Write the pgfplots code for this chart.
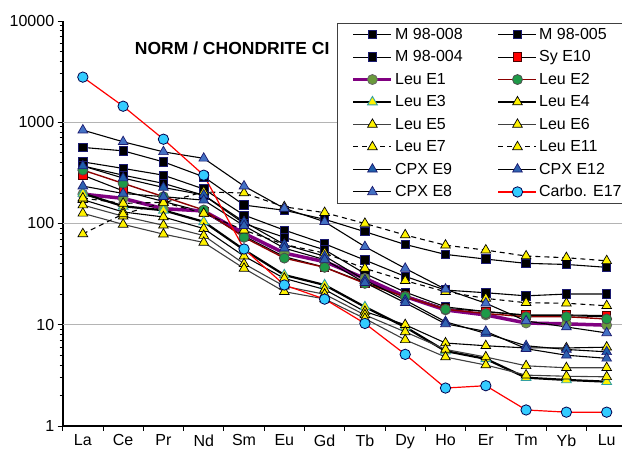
\documentclass[border=0pt]{standalone}
\usepackage{pgfplots}
\usepackage{pgfplotstable}
\pgfplotsset{compat=1.18}
\usepackage{fontspec}
\setmainfont{Liberation Sans}

\definecolor{sqedge}{HTML}{1A1A70}
\definecolor{leuAline}{HTML}{800080}
\definecolor{leuAfill}{HTML}{6A9A3C}
\definecolor{leuBline}{HTML}{8B0000}
\definecolor{leuBfill}{HTML}{1E9A48}
\definecolor{tealedge}{HTML}{33A0A0}
\definecolor{cpxnine}{HTML}{1F5FAA}
\definecolor{cpxtwelve}{HTML}{2F62B0}
\definecolor{cpxeight}{HTML}{4472C4}
\definecolor{carbofill}{HTML}{33CCFF}
\definecolor{gridgray}{HTML}{B4B4B4}
\definecolor{dgray}{HTML}{404040}

\pgfplotstableread{
x  Ma    Mb    Mc    Sy    LA    LB    LC    LD    LE    LF    LG    LK    CN    CT    CE    CB
0  406   564   370   300   195   337   198   172   152   126   178   79    370   234   836   2790
1  350   522   300   210   177   249   148   130   118   98    158   124   281   198   641   1440
2  300   406   249   165   140   184   135   116   96    78.5  162   160   227   184   510   680
3  219   289   190   130   133   136   104   89    76    65    126   205   191   170   440   300
4  121   152   100   75    80    73    55    47.6  40    36    86    200   104   95    234   56
5  86    135   73    47    51    45.5  31    28.7  24    21.2  62    146   62    57    141   24.7
6  63    110   55    37    42    36.9  24.7  22.3  20    18    51    128   47.6  44    104   17.9
7  43.5  83    32    26    28.7  25.6  15    13.5  12.5  11.5  36    100   27.6  26    59    10.3
8  30    62    21    19.5  19    18.9  9.5   10    8.5   7.1   27.2  77    17.5  16.5  36    5.1
9  22    49.5  15    14.5  14    14.2  5.5   6.6   5.7   4.8   21.2  61    10.7  10.2  22.4  2.37
10 20.7  44.5  13.5  13.5  12.5  12.9  4.6   6.2   4.8   4.0   18.2  54.6  8.2   8.6   16.3  2.5
11 19.3  40.4  12.3  12.5  10.4  12.0  3.0   5.9   3.93  3.18  16.5  47.7  6.2   5.8   10.9  1.44
12 20.1  39.4  12.3  12.5  10.2  12.0  2.85  5.9   3.76  3.1   16.3  45.9  5.7   5.0   9.5   1.37
13 20.1  36.9  12.0  12.3  9.9   11.4  2.74  6.0   3.76  3.06  15.4  42.8  5.4   4.66  8.3   1.37
}\ree

\begin{document}
\begin{tikzpicture}
\begin{axis}[
  at={(62.7pt,26pt)}, anchor=south west,
  scale only axis, width=559.3pt, height=405pt,
  ymode=log, ymin=1, ymax=10000, xmin=-0.5, xmax=13.38,
  axis x line*=bottom, axis y line*=left,
  axis line style={line width=2pt, black},
  tick align=outside,
  major tick length=5pt, minor tick length=3pt,
  tick style={black, line width=0.9pt},
  xtick={-0.5,0.5,...,13.5},
  xticklabels={La,Ce,Pr,Nd,Sm,Eu,Gd,Tb,Dy,Ho,Er,Tm,Yb,Lu,{}},
  xticklabel style={xshift=20.15pt, font=\fontsize{16}{19}\selectfont},
  ytick={1,10,100,1000,10000},
  yticklabels={1,10,100,1000,10000},
  minor ytick={2,3,4,5,6,7,8,9,20,30,40,50,60,70,80,90,200,300,400,500,600,700,800,900,2000,3000,4000,5000,6000,7000,8000,9000},
  yticklabel style={font=\fontsize{16}{19}\selectfont},
  extra y ticks={10,100,1000},
  extra y tick labels={},
  extra y tick style={grid=major},
  major grid style={gridgray, line width=1.3pt},
  legend columns=2,
  legend cell align=left,
  legend style={at={(axis description cs:0.4905,0.996)}, anchor=north west,
    draw=black!75, line width=1.3pt, fill=white,
    font=\fontsize{16}{19}\selectfont,
    row sep=5.8pt, inner xsep=14pt, inner ysep=3pt,
    /tikz/every even column/.append style={column sep=33pt}},
  legend image code/.code={\draw[mark repeat=2,mark phase=2] plot coordinates {(0pt,0pt) (19pt,0pt) (38pt,0pt)};},
  every axis plot/.append style={line width=1.1pt},
]
\addplot[black, mark=square*, mark size=4.2pt, mark options={solid, fill=black, draw=sqedge, line width=0.8pt}] table[x=x,y=Ma] {\ree};
\addlegendentry{M 98-008}
\addplot[black, mark=square*, mark size=4.2pt, mark options={solid, fill=black, draw=sqedge, line width=0.8pt}] table[x=x,y=Mb] {\ree};
\addlegendentry{M 98-005}
\addplot[black, mark=square*, mark size=4.2pt, mark options={solid, fill=black, draw=sqedge, line width=0.8pt}] table[x=x,y=Mc] {\ree};
\addlegendentry{M 98-004}
\addplot[black, mark=square*, mark size=4.2pt, mark options={solid, fill=red, draw=black!70!red, line width=0.8pt}] table[x=x,y=Sy] {\ree};
\addlegendentry{Sy E10}
\addplot[leuAline, line width=3.5pt, mark=*, mark size=5pt, mark options={solid, fill=leuAfill, draw=black!60, line width=0.8pt}] table[x=x,y=LA] {\ree};
\addlegendentry{Leu E1}
\addplot[leuBline, line width=1.4pt, mark=*, mark size=5pt, mark options={solid, fill=leuBfill, draw=black!70, line width=0.8pt}] table[x=x,y=LB] {\ree};
\addlegendentry{Leu E2}
\addplot[black, line width=2.2pt, mark=triangle*, mark size=5.6pt, mark options={solid, fill=yellow, draw=tealedge, line width=0.9pt}] table[x=x,y=LC] {\ree};
\addlegendentry{Leu E3}
\addplot[black, mark=triangle*, mark size=5.6pt, mark options={solid, fill=yellow, draw=black, line width=0.7pt}] table[x=x,y=LD] {\ree};
\addlegendentry{Leu E4}
\addplot[dgray, mark=triangle*, mark size=5.6pt, mark options={solid, fill=yellow, draw=black, line width=0.7pt}] table[x=x,y=LE] {\ree};
\addlegendentry{Leu E5}
\addplot[dgray, mark=triangle*, mark size=5.6pt, mark options={solid, fill=yellow, draw=black, line width=0.7pt}] table[x=x,y=LF] {\ree};
\addlegendentry{Leu E6}
\addplot[black, dash pattern=on 5pt off 4pt, mark=triangle*, mark size=5.6pt, mark options={solid, fill=yellow, draw=black, line width=0.7pt}] table[x=x,y=LG] {\ree};
\addlegendentry{Leu E7}
\addplot[black, dash pattern=on 5pt off 4pt, mark=triangle*, mark size=5.6pt, mark options={solid, fill=yellow, draw=black, line width=0.7pt}] table[x=x,y=LK] {\ree};
\addlegendentry{Leu E11}
\addplot[black, mark=triangle*, mark size=5.6pt, mark options={solid, fill=cpxnine, draw=sqedge, line width=0.7pt}] table[x=x,y=CN] {\ree};
\addlegendentry{CPX E9}
\addplot[black, mark=triangle*, mark size=5.6pt, mark options={solid, fill=cpxtwelve, draw=sqedge, line width=0.7pt}] table[x=x,y=CT] {\ree};
\addlegendentry{CPX E12}
\addplot[black, mark=triangle*, mark size=5.6pt, mark options={solid, fill=cpxeight, draw=sqedge, line width=0.7pt}] table[x=x,y=CE] {\ree};
\addlegendentry{CPX E8}
\addplot[red, line width=1.2pt, mark=*, mark size=5.2pt, mark options={solid, fill=carbofill, draw=black!70!blue, line width=0.8pt}] table[x=x,y=CB] {\ree};
\addlegendentry{Carbo. E17}
\node[font=\bfseries\fontsize{17.5}{20.5}\selectfont] at (axis description cs:0.303,0.933) {NORM / CHONDRITE CI};
\end{axis}
\pgfresetboundingbox
\path (0,0) rectangle (622pt,452pt);
\end{tikzpicture}
\end{document}
